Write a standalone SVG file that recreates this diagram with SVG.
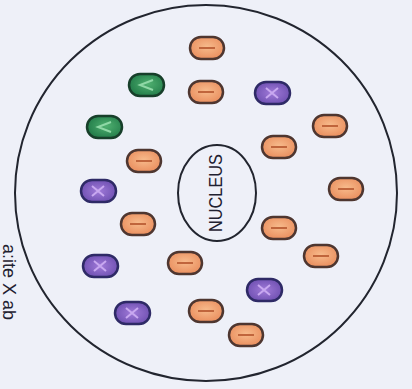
<svg xmlns="http://www.w3.org/2000/svg" width="412" height="389" viewBox="0 0 412 389">
<defs>
<radialGradient id="gO" cx="50%" cy="45%" r="60%"><stop offset="0" stop-color="#f7bb8c"/><stop offset="1" stop-color="#e98c5c"/></radialGradient>
<radialGradient id="gG" cx="55%" cy="45%" r="60%"><stop offset="0" stop-color="#4fb070"/><stop offset="1" stop-color="#217a48"/></radialGradient>
<radialGradient id="gP" cx="50%" cy="50%" r="60%"><stop offset="0" stop-color="#a07ad8"/><stop offset="1" stop-color="#6a4cae"/></radialGradient>
<g id="orange"><rect x="-17" y="-11" width="34" height="22" rx="11" fill="url(#gO)" stroke="#4e3630" stroke-width="2.5"/><line x1="-8" y1="0" x2="8" y2="0" stroke="#c0653c" stroke-width="2"/></g>
<g id="green"><rect x="-17" y="-11" width="35" height="22" rx="11" fill="url(#gG)" stroke="#173f2a" stroke-width="2.5"/><path d="M7,-5 L-6,0 L7,5" fill="none" stroke="#8fd8a6" stroke-width="2"/></g>
<g id="purple"><rect x="-17" y="-11" width="35" height="22" rx="11" fill="url(#gP)" stroke="#2e2a66" stroke-width="2.5"/><path d="M-6,-5 L6,5 M6,-5 L-6,5" stroke="#c8a8f0" stroke-width="2"/></g>
</defs>
<style>
.ring{fill:none;stroke:#22252f;stroke-width:2}
.lbl{font-family:"Liberation Sans",Arial,sans-serif;fill:#1e2030}
</style>
<rect width="412" height="389" fill="#eef0f8"/>
<g id="atom">
<ellipse class="ring" cx="206" cy="193" rx="191" ry="188"/>
</g>
<g id="nucleus">
<ellipse class="ring" cx="217" cy="193" rx="39" ry="48"/>
<text class="lbl" transform="translate(222,193) rotate(-90)" text-anchor="middle" font-size="18" textLength="78" lengthAdjust="spacingAndGlyphs">NUCLEUS</text>
</g>
<g id="caption">
<text class="lbl" transform="translate(3,244) rotate(90)" font-size="18" fill="#2a2e3a">a:ite X ab</text>
</g>
<g id="o1"><use href="#orange" x="207" y="48"/></g>
<g id="o2"><use href="#orange" x="206" y="92"/></g>
<g id="o3"><use href="#orange" x="330" y="126"/></g>
<g id="o4"><use href="#orange" x="144" y="161"/></g>
<g id="o5"><use href="#orange" x="279" y="147"/></g>
<g id="o6"><use href="#orange" x="346" y="189"/></g>
<g id="o7"><use href="#orange" x="138" y="224"/></g>
<g id="o8"><use href="#orange" x="279" y="228"/></g>
<g id="o9"><use href="#orange" x="321" y="256"/></g>
<g id="o10"><use href="#orange" x="185" y="263"/></g>
<g id="o11"><use href="#orange" x="206" y="311"/></g>
<g id="o12"><use href="#orange" x="246" y="335"/></g>
<g id="g1"><use href="#green" x="146" y="85"/></g>
<g id="g2"><use href="#green" x="104" y="127"/></g>
<g id="p1"><use href="#purple" x="272" y="93"/></g>
<g id="p2"><use href="#purple" x="98" y="191"/></g>
<g id="p3"><use href="#purple" x="100" y="266"/></g>
<g id="p4"><use href="#purple" x="132" y="313"/></g>
<g id="p5"><use href="#purple" x="264" y="290"/></g>
<g id="connectors"/>
</svg>
